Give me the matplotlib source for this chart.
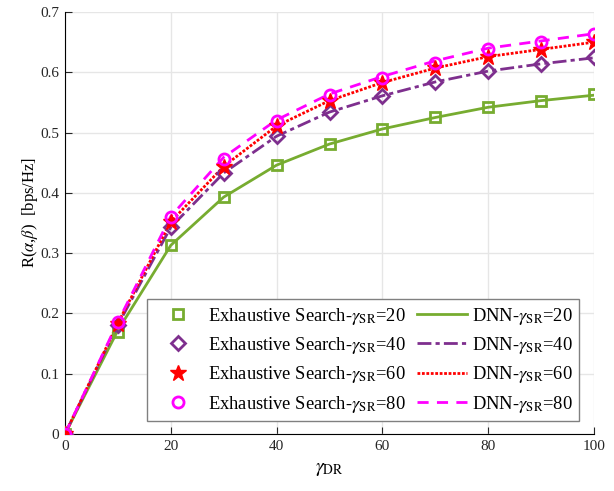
import matplotlib
matplotlib.use("Agg")
import matplotlib.pyplot as plt

plt.rcParams['font.family'] = ['Liberation Serif', 'DejaVu Serif']
plt.rcParams['mathtext.fontset'] = 'stix'

gamma_dr = [0, 10, 20, 30, 40, 50, 60, 70, 80, 90, 100]

es_20 = [0, 0.170, 0.313, 0.393, 0.446, 0.481, 0.506, 0.525, 0.542, 0.553, 0.564]
es_40 = [0, 0.180, 0.344, 0.433, 0.494, 0.534, 0.561, 0.584, 0.602, 0.614, 0.625]
es_60 = [0, 0.183, 0.352, 0.443, 0.511, 0.553, 0.583, 0.607, 0.626, 0.637, 0.651]
es_80 = [0, 0.185, 0.360, 0.456, 0.519, 0.562, 0.591, 0.616, 0.638, 0.650, 0.663]

dnn_20 = [0, 0.172, 0.313, 0.393, 0.446, 0.481, 0.506, 0.525, 0.542, 0.553, 0.562]
dnn_40 = [0, 0.181, 0.343, 0.433, 0.494, 0.534, 0.561, 0.584, 0.602, 0.614, 0.624]
dnn_60 = [0, 0.184, 0.352, 0.444, 0.511, 0.553, 0.583, 0.607, 0.626, 0.638, 0.650]
dnn_80 = [0, 0.186, 0.361, 0.459, 0.521, 0.564, 0.593, 0.619, 0.640, 0.652, 0.664]

sr_labels = ['20', '40', '60', '80']
colors = ['#77AC30', '#7E2F8E', '#FF0000', '#FF00FF']

fig = plt.figure(figsize=(6.14, 4.91), dpi=100)
ax = fig.add_axes([65/614, 1-434/491, 529/614, 422/491])

es_all = [es_20, es_40, es_60, es_80]
dnn_all = [dnn_20, dnn_40, dnn_60, dnn_80]
markers = ['s', 'D', '*', 'o']
msizes = [7, 7, 12, 8]
lstyles = ['-', (0, (5, 1.5, 1.5, 1.5)), (0, (1, 0.6)), (0, (4, 3))]

handles_es = []
handles_dnn = []
for i in range(4):
    l, = ax.plot(gamma_dr, dnn_all[i], color=colors[i], linestyle=lstyles[i], lw=2,
                 label='DNN-$\\gamma_{\\mathrm{SR}}$=' + sr_labels[i], zorder=2)
    handles_dnn.append(l)
for i in range(4):
    m, = ax.plot(gamma_dr, es_all[i], linestyle='none', marker=markers[i], ms=msizes[i],
                 markerfacecolor=(colors[i] if markers[i] == '*' else 'none'),
                 markeredgecolor=colors[i], markeredgewidth=2 if markers[i] != '*' else 1,
                 label='Exhaustive Search-$\\gamma_{\\mathrm{SR}}$=' + sr_labels[i], zorder=3)
    handles_es.append(m)

ax.set_xlim(0, 100)
ax.set_ylim(0, 0.7)
ax.set_xticks([0, 20, 40, 60, 80, 100])
ax.set_yticks([0, 0.1, 0.2, 0.3, 0.4, 0.5, 0.6, 0.7])
ax.set_yticklabels(['0', '0.1', '0.2', '0.3', '0.4', '0.5', '0.6', '0.7'])
ax.grid(True, color='#e6e6e6', lw=1)
ax.set_axisbelow(True)
for s in ['top', 'right']:
    ax.spines[s].set_visible(False)
ax.tick_params(direction='in', labelsize=11, length=5, colors='#262626', pad=4)
ax.set_xlabel('$\\gamma_{\\mathrm{DR}}$', fontsize=14, labelpad=6)
ax.set_ylabel('R($\\alpha$,$\\beta$)  [bps/Hz]', fontsize=12)
ax.yaxis.set_label_coords(-0.048, 0.525)

leg = ax.legend(handles_es + handles_dnn, [h.get_label() for h in handles_es + handles_dnn],
                ncol=2, loc='lower left', bbox_to_anchor=(147/614, (491-421)/491),
                bbox_transform=fig.transFigure, fontsize=13.3,
                fancybox=False, edgecolor='#808080', framealpha=1, handlelength=2.67,
                columnspacing=0.64, handletextpad=0.27, labelspacing=0.45, borderpad=0.35,
                borderaxespad=0)
leg.get_frame().set_linewidth(1)

fig.savefig('out.png', dpi=100)
